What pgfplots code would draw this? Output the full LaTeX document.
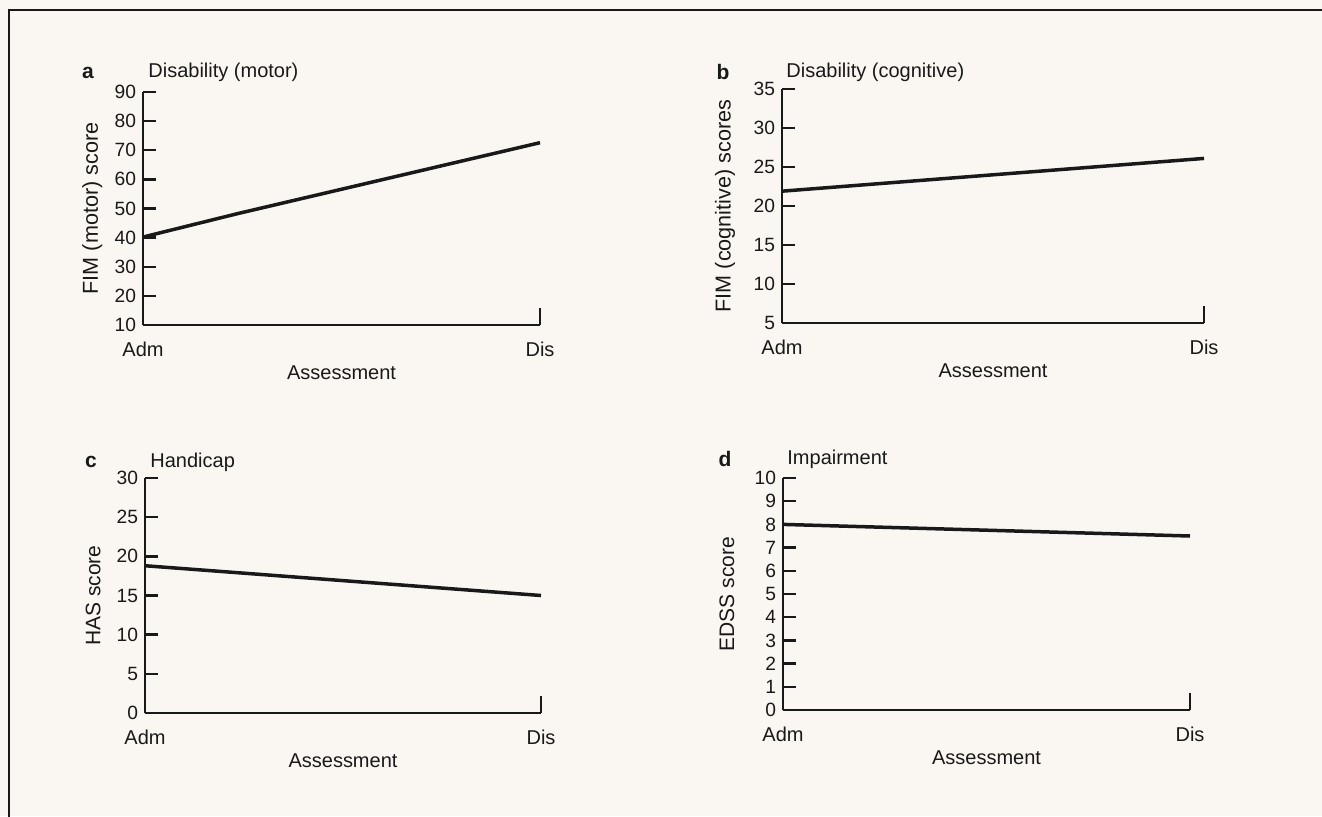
\documentclass[border=0pt]{standalone}
\usepackage{pgfplots}
\pgfplotsset{compat=1.18}
\usepackage{fontspec}
\setmainfont{Liberation Sans}
\definecolor{bgcol}{RGB}{250,247,243}
\definecolor{ink}{RGB}{25,25,25}
\pgfplotsset{
  panel/.style={
    scale only axis, clip=false,
    axis x line=bottom, axis y line=left,
    axis line style={-, line width=1.2pt, ink},
    xmin=0, xmax=1, xtick={0,1}, xticklabels={Adm,Dis},
    tick align=inside, major tick length=6.7pt,
    tick style={line width=1.2pt, ink},
    xtick style={/pgfplots/major tick length=8.3pt},
    /pgf/number format/assume math mode=true,
    yticklabel style={font=\fontsize{9.6}{11}\selectfont, text=ink},
    xticklabel style={font=\fontsize{10}{12}\selectfont, text=ink, yshift=-5pt},
    xlabel={Assessment},
    xlabel style={font=\fontsize{10}{12}\selectfont, text=ink, at={(axis description cs:0.5,0)}, anchor=center, yshift=-24pt},
  },
}
\tikzset{
  ttl/.style={anchor=west, inner sep=0pt, font=\fontsize{10}{12}\selectfont, text=ink},
  lett/.style={anchor=center, inner sep=0pt, font=\fontsize{10.5}{12}\selectfont\bfseries, text=ink},
  dline/.style={ink, line width=1.75pt, mark=none},
}
\begin{document}
\begin{tikzpicture}[x=1pt,y=1pt]
\useasboundingbox (0,0) rectangle (661,408);
\fill[bgcol] (0,0) rectangle (661,408);
\draw[line width=1.2pt, ink] (4.5,-2) -- (4.5,403) -- (663,403);

% panel a
\begin{axis}[panel, at={(71.5pt,245.5pt)}, anchor=south west,
  width=198.5pt, height=116.5pt,
  ymin=10, ymax=90, ytick={10,20,...,90},
  ylabel={FIM (motor) score},
  ylabel style={font=\fontsize{10.8}{12}\selectfont, text=ink, at={(axis description cs:-0.128,0.5)}, anchor=center}]
\addplot[dline] coordinates {(0,40.2) (0.24,48.3) (1,72.6)};
\end{axis}

% panel b
\begin{axis}[panel, at={(391pt,246.5pt)}, anchor=south west,
  width=211pt, height=117pt,
  ymin=5, ymax=35, ytick={5,10,...,35},
  ylabel={FIM (cognitive) scores},
  ylabel style={font=\fontsize{10.8}{12}\selectfont, text=ink, at={(axis description cs:-0.135,0.5)}, anchor=center}]
\addplot[dline] coordinates {(0,21.9) (0.5,24.0) (1,26.1)};
\end{axis}

% panel c
\begin{axis}[panel, at={(72.5pt,51.5pt)}, anchor=south west,
  width=198pt, height=117.5pt,
  ymin=0, ymax=30, ytick={0,5,...,30},
  ylabel={HAS score},
  ylabel style={font=\fontsize{10.5}{12}\selectfont, text=ink, at={(axis description cs:-0.131,0.5)}, anchor=center}]
\addplot[dline] coordinates {(0,18.8) (1,15.0)};
\end{axis}

% panel d
\begin{axis}[panel, at={(391.5pt,53pt)}, anchor=south west,
  width=203.5pt, height=116pt,
  ymin=0, ymax=10, ytick={0,1,...,10},
  ylabel={EDSS score},
  ylabel style={font=\fontsize{10.5}{12}\selectfont, text=ink, at={(axis description cs:-0.138,0.5)}, anchor=center}]
\addplot[dline] coordinates {(0,8.0) (1,7.5)};
\end{axis}

\node[lett] at (44,371.5) {a};
\node[ttl] at (74,372) {Disability (motor)};
\node[lett] at (361.5,372) {b};
\node[ttl] at (393,372) {Disability (cognitive)};
\node[lett] at (45.5,177) {c};
\node[ttl] at (75,177) {Handicap};
\node[lett] at (362.5,178.5) {d};
\node[ttl] at (393.5,178.5) {Impairment};
\end{tikzpicture}
\end{document}
